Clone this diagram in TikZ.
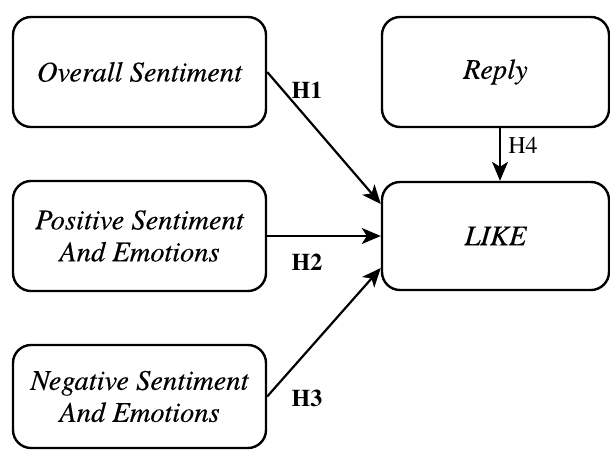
\documentclass[tikz,border=0pt]{standalone}
\usepackage{fontspec}
\setmainfont{texgyretermes}[Extension=.otf,UprightFont=*-regular,ItalicFont=*-italic,BoldFont=*-bold,BoldItalicFont=*-bolditalic,ItalicFeatures={FakeBold=0.3}]
\usetikzlibrary{arrows.meta,calc}
\begin{document}
\begin{tikzpicture}[x=1pt,y=-1pt,
  varbox/.style={draw=black,line width=2.4pt,rounded corners=18pt,fill=white,
    minimum width=253pt,minimum height=110pt,inner sep=0pt,align=center,
    font=\fontsize{28.5}{32}\selectfont\itshape},
  hyp/.style={-{Stealth[length=19pt,width=16pt,inset=5pt]},line width=2.2pt},
  hlab/.style={font=\fontsize{24}{27}\selectfont\bfseries,inner sep=0pt},
  hlabn/.style={font=\fontsize{24}{27}\selectfont,inner sep=0pt}]
\useasboundingbox[fill=white] (0,0) rectangle (610,451);
\node[varbox] (os) at (139.5,72) {Overall Sentiment};
\node[varbox] (ps) at (139.5,236) {Positive Sentiment\\And Emotions};
\node[varbox,minimum height=103pt] (ns) at (139.5,396.5) {Negative Sentiment\\And Emotions};
\node[varbox,minimum width=227pt] (re) at (495.5,72) {Reply};
\node[varbox,minimum width=227pt,minimum height=108pt] (li) at (495.5,236) {LIKE};
\coordinate (rb) at ($(re.south)+(4.5,0)$);
\coordinate (lt) at ($(li.north)+(4.5,0)$);
\draw[hyp] (os.east) -- ($(li.west)+(0,-32)$);
\draw[hyp] (ps.east) -- (li.west);
\draw[hyp] (ns.east) -- ($(li.west)+(0,32)$);
\draw[hyp] (rb) -- (lt);
\node[hlab] (h1) at (307,90) {H1};
\node[hlab] (h2) at (307,262) {H2};
\node[hlab] (h3) at (307,398) {H3};
\node[hlabn] (h4) at (523,145) {H4};
\end{tikzpicture}
\end{document}
